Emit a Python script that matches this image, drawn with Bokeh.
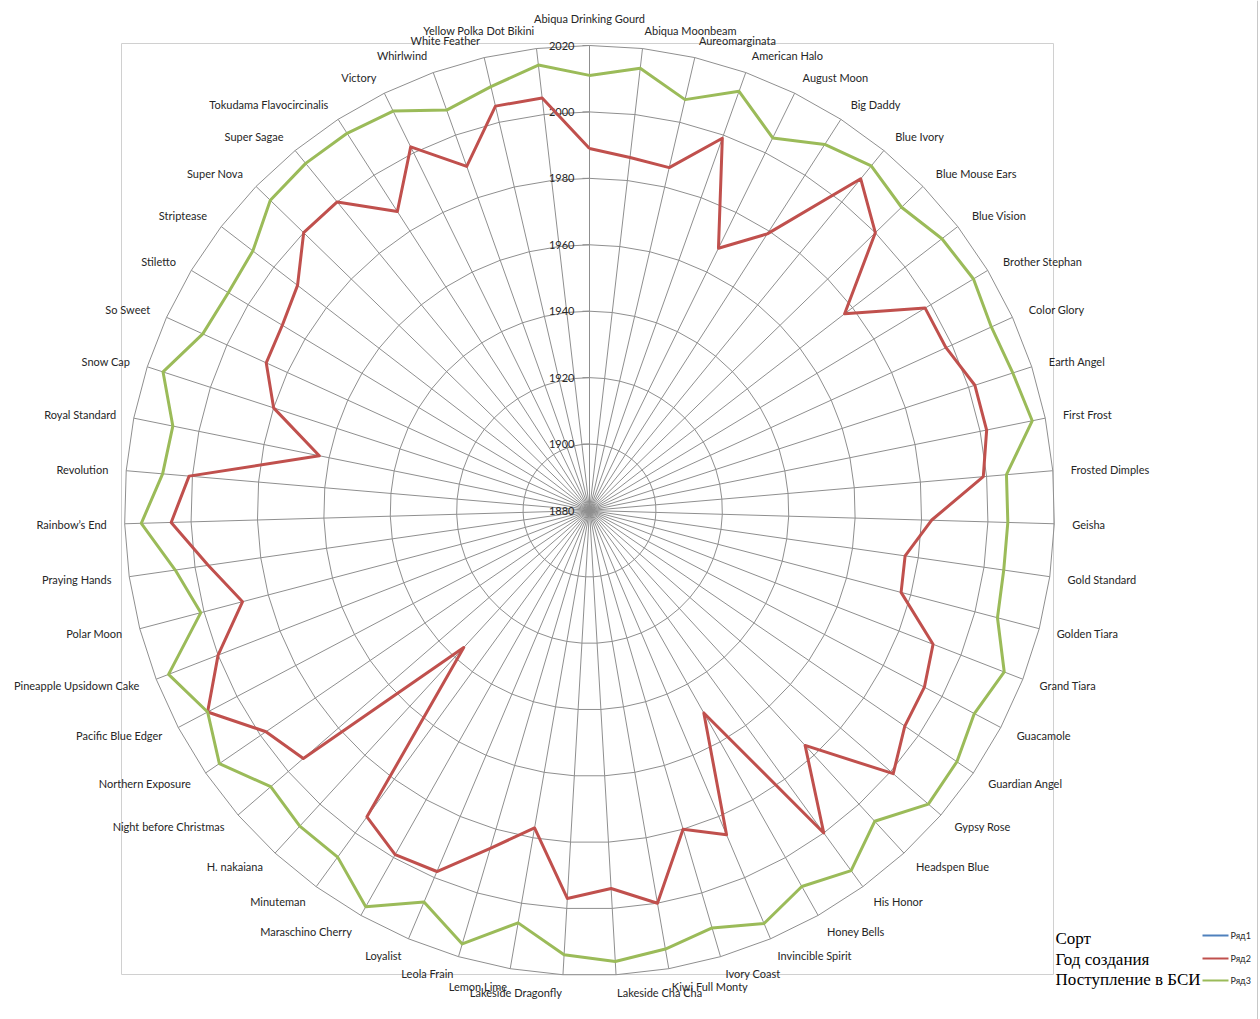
import numpy as np
from bokeh.plotting import figure
from bokeh.models import Range1d
from bokeh.core.properties import value
from bokeh.embed import file_html
from bokeh.resources import INLINE

# Hosta cultivars: year of creation and year of arrival in the botanical garden
cultivars = [
    "Abiqua Drinking Gourd", "Abiqua Moonbeam", "Aureomarginata", "American Halo",
    "August Moon", "Big Daddy", "Blue Ivory", "Blue Mouse Ears", "Blue Vision",
    "Brother Stephan", "Color Glory", "Earth Angel", "First Frost", "Frosted Dimples",
    "Geisha", "Gold Standard", "Golden Tiara", "Grand Tiara", "Guacamole",
    "Guardian Angel", "Gypsy Rose", "Headspen Blue", "His Honor", "Honey Bells",
    "Invincible Spirit", "Ivory Coast", "Kiwi Full Monty", "Lakeside Cha Cha",
    "Lakeside Dragonfly", "Lemon Lime", "Leola Frain", "Loyalist", "Maraschino Cherry",
    "Minuteman", "H. nakaiana", "Night before Christmas", "Northern Exposure",
    "Pacific Blue Edger", "Pineapple Upsidown Cake", "Polar Moon", "Praying Hands",
    "Rainbow\u2019s End", "Revolution", "Royal Standard", "Snow Cap", "So Sweet",
    "Stiletto", "Striptease", "Super Nova", "Super Sagae", "Tokudama Flavocircinalis",
    "Victory", "Whirlwind", "White Feather", "Yellow Polka Dot Bikini",
]

year_created = [
    1989, 1987, 1986, 1999, 1968, 1979, 2009, 2000, 1977, 1998,
    1998, 2002, 2002, 1999, 1983, 1976, 1977, 1991, 1994, 1995,
    2001, 1976, 2000, 1950, 1986, 1980, 2000, 1994, 1997, 1977,
    1986, 1998, 1999, 1994, 1936, 1994, 1998, 2010, 2000, 1988,
    1996, 2006, 2001, 1963, 1980, 1987, 1988, 1991, 2000, 2000,
    1987, 2002, 1990, 2005, 2005,
]

year_arrived = [
    2011, 2014, 2007, 2014, 2005, 2011, 2014, 2011, 2014, 2015,
    2013, 2014, 2016, 2006, 2006, 2006, 2007, 2014, 2011, 2014,
    2015, 2007, 2014, 2010, 2015, 2011, 2014, 2016, 2014, 2006,
    2016, 2008, 2017, 2009, 2009, 2007, 2015, 2010, 2016, 2001,
    2006, 2015, 2009, 2008, 2015, 2008, 2007, 2008, 2014, 2015,
    2015, 2014, 2008, 2011, 2015,
]

axis_ticks = [1880, 1900, 1920, 1940, 1960, 1980, 2000, 2020]

legend_rows = ["Сорт", "Год создания", "Поступление в БСИ"]
series_names = ["Ряд1", "Ряд2", "Ряд3"]
series_colors = ["#4f81bd", "#c0504d", "#9bbb59"]

# ---- geometry -------------------------------------------------------------
W, H = 1260, 1019
CX, CY = 589, 510            # pixel position of the radar centre
R_PX = 465                   # pixel radius of the outer ring
V0, V1 = axis_ticks[0], axis_ticks[-1]
K = R_PX / (V1 - V0)         # pixels per year


def px(xp, yp):
    """Pixel position on the page -> data coordinates."""
    return (xp - CX) / K, (CY - yp) / K


n = len(cultivars)
theta = np.arange(n) * 2 * np.pi / n
sin_t, cos_t = np.sin(theta), np.cos(theta)


def polar(vals):
    r = np.asarray(vals, dtype=float) - V0
    return r * sin_t, r * cos_t


p = figure(width=W, height=H, output_backend="svg", toolbar_location=None,
           x_range=Range1d(-CX / K, (W - CX) / K),
           y_range=Range1d(-(H - CY) / K, CY / K),
           min_border=0, outline_line_color=None)
p.axis.visible = False
p.grid.visible = False
p.background_fill_color = "white"
p.border_fill_color = "white"

# plot-area frame and outer chart edge
x0, y0 = px(121, 43)
x1, y1 = px(1053, 974)
p.line([x0, x1, x1, x0, x0], [y0, y0, y1, y1, y0], line_color="#d0d0d0", line_width=1)
ex, _ = px(1257, 0)
p.line([ex, ex], [-(H - CY) / K, CY / K], line_color="#c8c8c8", line_width=1)

# rings (polygonal) and spokes
R = V1 - V0
ring_xs, ring_ys = [], []
for t in axis_ticks[1:]:
    rr = t - V0
    ring_xs.append(list(np.append(rr * sin_t, rr * sin_t[0])))
    ring_ys.append(list(np.append(rr * cos_t, rr * cos_t[0])))
p.multi_line(ring_xs, ring_ys, line_color="#8f8f8f", line_width=1)
p.segment(x0=np.zeros(n), y0=np.zeros(n), x1=R * sin_t, y1=R * cos_t,
          line_color="#8f8f8f", line_width=1)

# value axis ticks and labels along the top spoke
tick_r = np.array(axis_ticks, dtype=float) - V0
p.segment(x0=np.full(len(tick_r), -7 / K), y0=tick_r, x1=np.zeros(len(tick_r)), y1=tick_r,
          line_color="#8f8f8f", line_width=1)
p.text(x=np.full(len(tick_r), -15 / K), y=tick_r, text=[str(t) for t in axis_ticks],
       text_font=value("Lato"), text_font_size="11px", text_color="#262626",
       text_align="right", text_baseline="middle")

# data series
for vals, col in ((year_created, series_colors[1]), (year_arrived, series_colors[2])):
    xs, ys = polar(vals)
    p.line(np.append(xs, xs[0]), np.append(ys, ys[0]), line_color=col,
           line_width=3, line_join="round")

# category labels around the chart
lab_r = R + 18 / K
lx, ly = lab_r * sin_t, lab_r * cos_t
for i, name in enumerate(cultivars):
    s = sin_t[i]
    if abs(s) < 1e-6:
        align = "center"
        yy = ly[i] + (9 / K if cos_t[i] > 0 else -9 / K)
    else:
        align = "left" if s > 0 else "right"
        yy = ly[i]
    p.text(x=[lx[i]], y=[yy], text=[name], text_font=value("Lato"),
           text_font_size="11px", text_color="#262626",
           text_align=align, text_baseline="middle")

# legend block
row_y = [938, 959, 979]
for j in range(3):
    tx, ty = px(1055, row_y[j])
    p.text(x=[tx], y=[ty], text=[legend_rows[j]], text_font=value("Liberation Serif"),
           text_font_size="17px", text_color="#000000",
           text_align="left", text_baseline="middle")
line_y = [935, 958, 980]
for j in range(3):
    ax, ay = px(1202, line_y[j])
    bx, _ = px(1228, line_y[j])
    p.line([ax, bx], [ay, ay], line_color=series_colors[j], line_width=2)
    sx, sy = px(1230, line_y[j])
    p.text(x=[sx], y=[sy], text=[series_names[j]], text_font=value("Lato"),
           text_font_size="9px", text_color="#262626",
           text_align="left", text_baseline="middle")

open("out.html", "w").write(file_html(p, INLINE))
